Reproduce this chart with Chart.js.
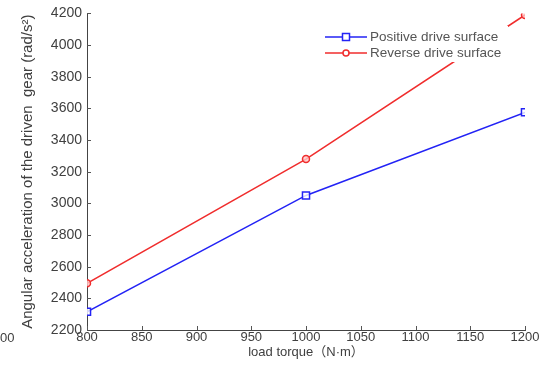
<!DOCTYPE html>
<html>
<head>
<meta charset="utf-8">
<script src="https://cdn.jsdelivr.net/npm/chart.js@4"></script>
<style>
  html, body { margin: 0; padding: 0; background: #fff; }
  #wrap { width: 544px; height: 371px; position: relative; }
</style>
</head>
<body>
<div id="wrap"><canvas id="chart"></canvas></div>
<script>
const loadTorque = [800, 1000, 1200];
const positiveSurface = [2315, 3050, 3575];
const reverseSurface = [2495, 3280, 4190];
const xRange = [800, 1200];
const yRange = [2200, 4200];
const seriesNames = ["Positive drive surface", "Reverse drive surface"];

const blue = "rgb(35,35,245)";
const red = "rgb(240,45,45)";
const textColor = "#404040";
const fontFamily = "'Liberation Sans', Arial, 'Noto Sans CJK SC', sans-serif";

const toPoints = (ys) => loadTorque.map((x, i) => ({ x: x, y: ys[i] }));

// inward tick marks, MATLAB style
const innerTicks = {
  id: "innerTicks",
  afterDraw(chart) {
    const { ctx, chartArea, scales } = chart;
    ctx.save();
    ctx.strokeStyle = "#555";
    ctx.lineWidth = 1;
    ctx.beginPath();
    scales.x.ticks.forEach((t) => {
      const px = Math.round(scales.x.getPixelForValue(t.value)) + 0.5;
      ctx.moveTo(px, chartArea.bottom);
      ctx.lineTo(px, chartArea.bottom - 4);
    });
    scales.y.ticks.forEach((t) => {
      const py = Math.round(scales.y.getPixelForValue(t.value)) + 0.5;
      ctx.moveTo(chartArea.left, py);
      ctx.lineTo(chartArea.left + 4, py);
    });
    ctx.stroke();

    // leftover label from the neighbouring figure
    ctx.fillStyle = textColor;
    ctx.font = "13px " + fontFamily;
    ctx.textBaseline = "middle";
    ctx.textAlign = "left";
    ctx.fillText("00", 0, 338);
    ctx.restore();
  }
};

// legend box with line + marker samples
const boxLegend = {
  id: "boxLegend",
  afterDatasetsDraw(chart) {
    const { ctx } = chart;
    ctx.save();
    ctx.fillStyle = "#fff";
    ctx.fillRect(318, 26, 190, 36);
    const rows = [
      { name: seriesNames[0], color: blue, y: 37, marker: "rect" },
      { name: seriesNames[1], color: red, y: 53, marker: "circle" }
    ];
    rows.forEach((r) => {
      ctx.strokeStyle = r.color;
      ctx.lineWidth = 1.5;
      ctx.beginPath();
      ctx.moveTo(325, r.y);
      ctx.lineTo(367, r.y);
      ctx.stroke();
      ctx.fillStyle = "#fff";
      ctx.beginPath();
      if (r.marker === "rect") {
        ctx.rect(342.5, r.y - 3.5, 7, 7);
      } else {
        ctx.arc(346, r.y, 3, 0, Math.PI * 2);
      }
      ctx.fill();
      ctx.stroke();
      ctx.fillStyle = "#555";
      ctx.font = "13.5px " + fontFamily;
      ctx.textBaseline = "middle";
      ctx.textAlign = "left";
      ctx.fillText(r.name, 370, r.y);
    });
    ctx.restore();
  }
};

new Chart(document.getElementById("chart"), {
  type: "line",
  data: {
    datasets: [
      {
        label: seriesNames[0],
        data: toPoints(positiveSurface),
        borderColor: blue,
        backgroundColor: "rgba(255,255,255,0.8)",
        borderWidth: 1.5,
        pointStyle: "rect",
        pointRadius: 5,
        pointBorderWidth: 1.5,
        tension: 0
      },
      {
        label: seriesNames[1],
        data: toPoints(reverseSurface),
        borderColor: red,
        backgroundColor: "rgba(255,200,200,0.8)",
        borderWidth: 1.5,
        pointStyle: "circle",
        pointRadius: 3.5,
        pointBorderWidth: 1.5,
        tension: 0
      }
    ]
  },
  options: {
    responsive: true,
    maintainAspectRatio: false,
    animation: false,
    layout: { padding: { top: 13, right: 19, left: 0, bottom: 0 } },
    plugins: {
      legend: { display: false },
      tooltip: { enabled: false }
    },
    scales: {
      x: {
        type: "linear",
        min: xRange[0],
        max: xRange[1],
        border: { color: "#444", width: 1 },
        grid: { display: true, drawOnChartArea: false, drawTicks: false },
        ticks: {
          stepSize: 50,
          padding: 0,
          color: textColor,
          font: { family: fontFamily, size: 13 },
          maxRotation: 0,
          callback: (v) => String(v)
        },
        title: {
          display: true,
          text: "load torque（N·m）",
          color: textColor,
          font: { family: fontFamily, size: 13 },
          padding: { top: 0, bottom: 11 }
        },
        afterFit(scale) { scale.height = 41; }
      },
      y: {
        type: "linear",
        min: yRange[0],
        max: yRange[1],
        border: { color: "#444", width: 1 },
        grid: { display: true, drawOnChartArea: false, drawTicks: false },
        ticks: {
          stepSize: 200,
          padding: 5,
          color: textColor,
          font: { family: fontFamily, size: 14 },
          callback: (v) => String(v)
        },
        title: {
          display: true,
          text: "Angular acceleration of the driven  gear (rad/s²)",
          color: textColor,
          font: { family: fontFamily, size: 15 },
          padding: { top: 19, bottom: 0 }
        },
        afterFit(scale) { scale.width = 87; }
      }
    }
  },
  plugins: [innerTicks, boxLegend]
});
</script>
</body>
</html>
